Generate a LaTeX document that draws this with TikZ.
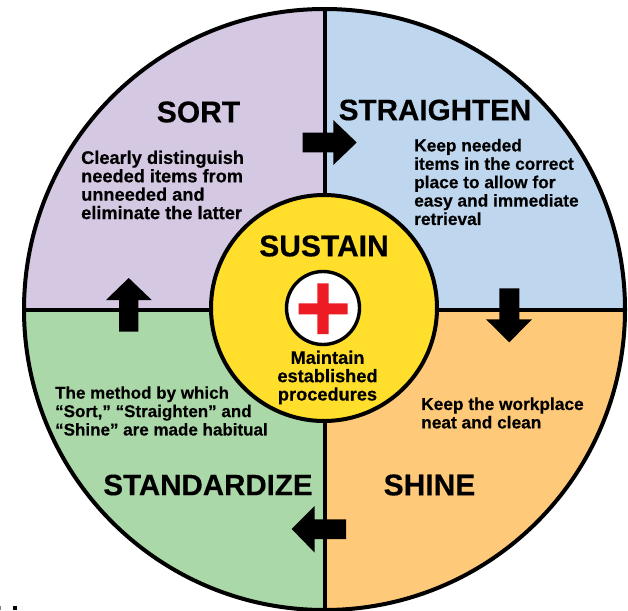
\documentclass[tikz,border=0pt]{standalone}
\usepackage{fontspec}
\setmainfont{Liberation Sans}[BoldFont={Liberation Sans Bold},BoldFeatures={FakeBold=0.4}]
\definecolor{cpurple}{HTML}{D5C8E3}
\definecolor{cblue}{HTML}{BFD7EE}
\definecolor{corange}{HTML}{FFC97A}
\definecolor{cgreen}{HTML}{ABD8A8}
\definecolor{cyellow}{HTML}{FFDF2B}
\definecolor{cred}{HTML}{ED1C24}
\tikzset{
  ttl/.style={font=\fontsize{30}{32}\selectfont\bfseries,inner sep=0pt,text=black},
  body/.style={font=\fontsize{17.3}{18.4}\selectfont\bfseries,inner sep=0pt,align=left,text=black},
  bodyb/.style={font=\fontsize{18.2}{18.4}\selectfont\bfseries,inner sep=0pt,align=left,text=black},
  bodyc/.style={font=\fontsize{18.2}{18.3}\selectfont\bfseries,inner sep=0pt,align=center,text=black},
  ring/.style={draw=black,line width=4pt},
  divider/.style={draw=black,line width=4pt},
  blockarrow/.style={fill=black,draw=none},
}
\begin{document}
\begin{tikzpicture}[x=1pt,y=-1pt]
\useasboundingbox (0,0) rectangle (628,610);
\fill[white] (0,0) rectangle (628,610);
\coordinate (c) at (324.5,309.5);
% quadrants
\begin{scope}
\clip (c) circle[radius=300.5];
\fill[cpurple] (c) rectangle (24,9);
\fill[cblue] (c) rectangle (625,9);
\fill[corange] (c) rectangle (625,610);
\fill[cgreen] (c) rectangle (24,610);
\end{scope}
\draw[divider] (24,309.5) -- (625,309.5);
\draw[divider] (324.5,9) -- (324.5,610);
\draw[ring] (c) circle[radius=300.5];
% arrows
\fill[blockarrow] (302.7,132.7) -- (333.3,132.7) -- (333.3,120) -- (356.7,142.5) -- (333.3,165) -- (333.3,152.3) -- (302.7,152.3) -- cycle;
\fill[blockarrow] (499.3,288.3) -- (519.3,288.3) -- (519.3,319.3) -- (532,319.3) -- (509.3,342.3) -- (486,319.3) -- (499.3,319.3) -- cycle;
\fill[blockarrow] (119,331.7) -- (138.3,331.7) -- (138.3,300) -- (151.7,300) -- (128.7,278) -- (106,300) -- (119,300) -- cycle;
\fill[blockarrow] (346,519.3) -- (314.7,519.3) -- (314.7,506) -- (291.7,529) -- (314.7,552.7) -- (314.7,539) -- (346,539) -- cycle;
% centre
\node[circle,draw=black,line width=4pt,fill=cyellow,minimum size=226pt,inner sep=0pt] (hub) at (324,308) {};
\node[circle,draw=black,line width=3.4pt,fill=white,minimum size=73pt,inner sep=0pt] (badge) at (323,308) {};
\fill[cred] (298.7,303.3) -- (317.3,303.3) -- (317.3,283.3) -- (328.7,283.3) -- (328.7,303.3) -- (347.7,303.3) -- (347.7,314.3) -- (328.7,314.3) -- (328.7,334) -- (317.3,334) -- (317.3,314.3) -- (298.7,314.3) -- cycle;
% text
\node[ttl] (sort) at (198.5,112) {SORT};
\node[ttl,font=\fontsize{29.6}{32}\selectfont\bfseries] (straighten) at (435,110) {STRAIGHTEN};
\node[ttl] (sustain) at (324,246) {SUSTAIN};
\node[ttl] (shine) at (429.5,485) {SHINE};
\node[ttl,font=\fontsize{29.5}{32}\selectfont\bfseries] (standardize) at (208,485) {STANDARDIZE};
\node[bodyb,anchor=west] (t1) at (81,185) {Clearly distinguish\\needed items from\\unneeded and\\eliminate the latter};
\node[body,anchor=west] (t2) at (414,182) {Keep needed\\items in the correct\\place to allow for\\easy and immediate\\retrieval};
\node[bodyc] (t3) at (327.5,377.5) {Maintain\\established\\procedures};
\node[body,anchor=west] (t4) at (421,413) {Keep the workplace\\neat and clean};
\node[body,font=\fontsize{17}{18.4}\selectfont\bfseries,anchor=west] (t5) at (55,411) {The method by which\\“Sort,” “Straighten” and\\“Shine” are made habitual};
% clipped fragments at the lower edge
\fill[black!50] (0,606) rectangle (1,610);
\fill[black] (13,606) rectangle (16.5,610);
\end{tikzpicture}
\end{document}
